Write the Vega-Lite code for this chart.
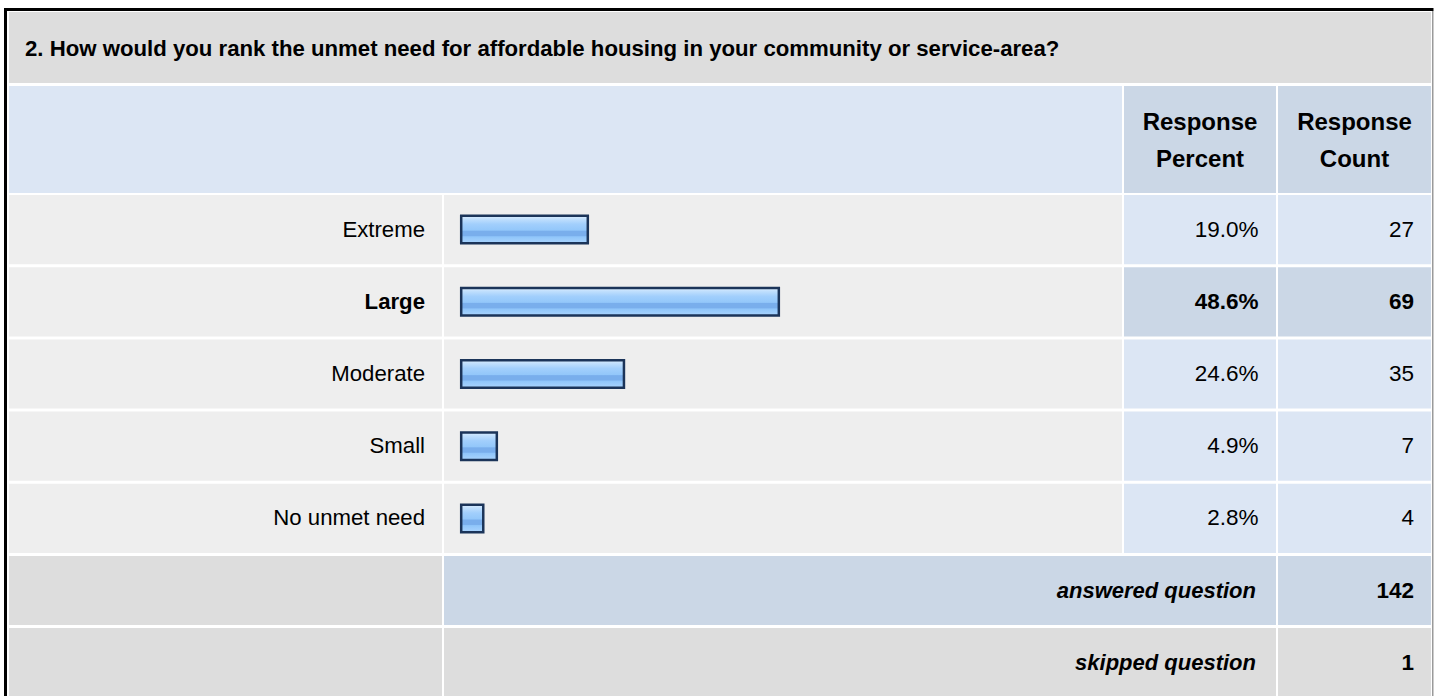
{
  "$schema": "https://vega.github.io/schema/vega-lite/v6.json",
  "background": "white",
  "padding": {"left": 4, "top": 8, "right": 0, "bottom": 0},
  "spacing": 0,
  "config": {
    "view": {"stroke": null},
    "text": {"font": "Liberation Sans", "color": "#000000"}
  },
  "datasets": {
    "question": [
      {"question": "2. How would you rank the unmet need for affordable housing in your community or service-area?"}
    ],
    "headers": [
      {"column": "percent", "header": "Response Percent"},
      {"column": "count", "header": "Response Count"}
    ],
    "answers": [
      {"answer": "Extreme", "percent": 0.190, "count": 27},
      {"answer": "Large", "percent": 0.486, "count": 69},
      {"answer": "Moderate", "percent": 0.246, "count": 35},
      {"answer": "Small", "percent": 0.049, "count": 7},
      {"answer": "No unmet need", "percent": 0.028, "count": 4}
    ],
    "totals": [
      {"label": "answered question", "value": 142},
      {"label": "skipped question", "value": 1}
    ]
  },
  "vconcat": [
    {
      "data": {"name": "question"},
      "width": 1422,
      "height": 71,
      "view": {"fill": "#dddddd", "stroke": null},
      "layer": [
        {
          "mark": {"type": "text", "align": "left", "baseline": "middle", "x": 16, "y": 36.5, "fontSize": 22.2, "fontWeight": "bold"},
          "encoding": {"text": {"field": "question", "type": "nominal"}}
        },
        {
          "mark": {"type": "rect", "color": "#000000"},
          "encoding": {"x": {"value": -5}, "x2": {"value": -2}, "y": {"value": -4}, "y2": {"value": 71}}
        },
        {
          "mark": {"type": "rect", "color": "#000000"},
          "encoding": {"x": {"value": -5}, "x2": {"value": 1424.5}, "y": {"value": -4}, "y2": {"value": -1}}
        },
        {
          "mark": {"type": "rect", "color": "#9a9a9a"},
          "encoding": {"x": {"value": 1423}, "x2": {"value": 1424.5}, "y": {"value": -1}, "y2": {"value": 71}}
        }
      ]
    },
    {
      "data": {"name": "headers"},
      "hconcat": [
        {
          "width": 1113,
          "height": 107,
          "view": {"fill": "#dce6f4", "stroke": null},
          "layer": [
            {
              "data": {"name": "question"},
              "mark": {"type": "rect", "color": "#000000"},
              "encoding": {"x": {"value": -5}, "x2": {"value": -2}, "y": {"value": -3}, "y2": {"value": 107}}
            }
          ]
        },
        {
          "width": 152,
          "height": 107,
          "view": {"fill": "#cbd7e6", "stroke": null},
          "transform": [{"filter": "datum.column === 'percent'"}],
          "mark": {"type": "text", "align": "center", "baseline": "middle", "dy": -17, "fontSize": 24, "fontWeight": "bold", "lineHeight": 37, "lineBreak": " "},
          "encoding": {"text": {"field": "header", "type": "nominal"}}
        },
        {
          "width": 153,
          "height": 107,
          "view": {"fill": "#cbd7e6", "stroke": null},
          "layer": [
            {
              "transform": [{"filter": "datum.column === 'count'"}],
              "mark": {"type": "text", "align": "center", "baseline": "middle", "dy": -17, "fontSize": 24, "fontWeight": "bold", "lineHeight": 37, "lineBreak": " "},
              "encoding": {"text": {"field": "header", "type": "nominal"}}
            },
            {
              "data": {"name": "question"},
              "mark": {"type": "rect", "color": "#9a9a9a"},
              "encoding": {"x": {"value": 154}, "x2": {"value": 155.5}, "y": {"value": -3}, "y2": {"value": 107}}
            }
          ]
        }
      ],
      "spacing": 2,
      "bounds": "flush"
    },
    {
      "data": {"name": "answers"},
      "hconcat": [
        {
          "width": 433,
          "height": 358,
          "layer": [
            {
              "mark": {"type": "rect", "color": "#eeeeee"},
              "encoding": {
                "y": {"field": "answer", "type": "nominal", "sort": null, "axis": null, "scale": {"paddingInner": 0.04155, "paddingOuter": 0}}
              }
            },
            {
              "transform": [{"filter": "datum.answer !== 'Large'"}],
              "mark": {"type": "text", "align": "right", "baseline": "middle", "x": 416, "fontSize": 22.2},
              "encoding": {
                "y": {"field": "answer", "type": "nominal", "sort": null, "axis": null},
                "text": {"field": "answer", "type": "nominal"}
              }
            },
            {
              "transform": [{"filter": "datum.answer === 'Large'"}],
              "mark": {"type": "text", "align": "right", "baseline": "middle", "x": 416, "fontSize": 22.2, "fontWeight": "bold"},
              "encoding": {
                "y": {"field": "answer", "type": "nominal", "sort": null, "axis": null},
                "text": {"field": "answer", "type": "nominal"}
              }
            },
            {
              "data": {"name": "question"},
              "mark": {"type": "rect", "color": "#000000"},
              "encoding": {"x": {"value": -5}, "x2": {"value": -2}, "y": {"value": -2}, "y2": {"value": 358}}
            }
          ]
        },
        {
          "width": 678,
          "height": 358,
          "encoding": {
            "y": {"field": "answer", "type": "nominal", "sort": null, "axis": null, "scale": {"paddingInner": 0.04155, "paddingOuter": 0}}
          },
          "layer": [
            {
              "mark": {"type": "rect", "color": "#eeeeee"}
            },
            {
              "mark": {
                "type": "bar",
                "size": 27.5,
                "stroke": "#1b3459",
                "strokeWidth": 2.5,
                "color": {
                  "gradient": "linear", "x1": 0, "y1": 0, "x2": 0, "y2": 1,
                  "stops": [
                    {"offset": 0, "color": "#dceefe"},
                    {"offset": 0.12, "color": "#c0dffd"},
                    {"offset": 0.3, "color": "#a2cffc"},
                    {"offset": 0.52, "color": "#93c7fa"},
                    {"offset": 0.56, "color": "#79aeec"},
                    {"offset": 0.72, "color": "#79aeec"},
                    {"offset": 0.76, "color": "#8fc5fa"},
                    {"offset": 1, "color": "#aad4fd"}
                  ]
                }
              },
              "encoding": {
                "x": {"field": "percent", "type": "quantitative", "stack": null, "axis": null, "scale": {"domain": [-0.03285, 1.0178], "nice": false}},
                "x2": {"datum": -0.0062}
              }
            }
          ],
          "resolve": {"scale": {"x": "independent"}}
        },
        {
          "width": 152,
          "height": 358,
          "encoding": {
            "y": {"field": "answer", "type": "nominal", "sort": null, "axis": null, "scale": {"paddingInner": 0.04155, "paddingOuter": 0}}
          },
          "layer": [
            {
              "mark": {"type": "rect"},
              "encoding": {
                "color": {"condition": {"test": "datum.answer === 'Large'", "value": "#cbd7e6"}, "value": "#dce6f4"}
              }
            },
            {
              "transform": [{"filter": "datum.answer !== 'Large'"}],
              "mark": {"type": "text", "align": "right", "baseline": "middle", "x": 134.5, "fontSize": 22.5},
              "encoding": {"text": {"field": "percent", "type": "quantitative", "format": ".1%"}}
            },
            {
              "transform": [{"filter": "datum.answer === 'Large'"}],
              "mark": {"type": "text", "align": "right", "baseline": "middle", "x": 134.5, "fontSize": 22.5, "fontWeight": "bold"},
              "encoding": {"text": {"field": "percent", "type": "quantitative", "format": ".1%"}}
            }
          ]
        },
        {
          "width": 153,
          "height": 358,
          "layer": [
            {
              "mark": {"type": "rect"},
              "encoding": {
                "y": {"field": "answer", "type": "nominal", "sort": null, "axis": null, "scale": {"paddingInner": 0.04155, "paddingOuter": 0}},
                "color": {"condition": {"test": "datum.answer === 'Large'", "value": "#cbd7e6"}, "value": "#dce6f4"}
              }
            },
            {
              "transform": [{"filter": "datum.answer !== 'Large'"}],
              "mark": {"type": "text", "align": "right", "baseline": "middle", "x": 136, "fontSize": 22.5},
              "encoding": {
                "y": {"field": "answer", "type": "nominal", "sort": null, "axis": null},
                "text": {"field": "count", "type": "quantitative"}
              }
            },
            {
              "transform": [{"filter": "datum.answer === 'Large'"}],
              "mark": {"type": "text", "align": "right", "baseline": "middle", "x": 136, "fontSize": 22.5, "fontWeight": "bold"},
              "encoding": {
                "y": {"field": "answer", "type": "nominal", "sort": null, "axis": null},
                "text": {"field": "count", "type": "quantitative"}
              }
            },
            {
              "data": {"name": "question"},
              "mark": {"type": "rect", "color": "#9a9a9a"},
              "encoding": {"x": {"value": 154}, "x2": {"value": 155.5}, "y": {"value": -2}, "y2": {"value": 358}}
            }
          ]
        }
      ],
      "spacing": 2,
      "bounds": "flush"
    },
    {
      "data": {"name": "totals"},
      "hconcat": [
        {
          "width": 433,
          "height": 141,
          "layer": [
            {
              "mark": {"type": "rect", "color": "#dddddd"},
              "encoding": {
                "y": {"field": "label", "type": "nominal", "sort": null, "axis": null, "scale": {"paddingInner": 0.041667, "paddingOuter": 0}}
              }
            },
            {
              "data": {"name": "question"},
              "mark": {"type": "rect", "color": "#000000"},
              "encoding": {"x": {"value": -5}, "x2": {"value": -2}, "y": {"value": -3}, "y2": {"value": 141}}
            }
          ]
        },
        {
          "width": 832,
          "height": 141,
          "encoding": {
            "y": {"field": "label", "type": "nominal", "sort": null, "axis": null, "scale": {"paddingInner": 0.041667, "paddingOuter": 0}}
          },
          "layer": [
            {
              "mark": {"type": "rect"},
              "encoding": {
                "color": {"condition": {"test": "datum.label === 'answered question'", "value": "#cbd7e6"}, "value": "#dddddd"}
              }
            },
            {
              "mark": {"type": "text", "align": "right", "baseline": "middle", "x": 812, "fontSize": 22, "fontWeight": "bold", "fontStyle": "italic"},
              "encoding": {"text": {"field": "label", "type": "nominal"}}
            }
          ]
        },
        {
          "width": 153,
          "height": 141,
          "layer": [
            {
              "mark": {"type": "rect"},
              "encoding": {
                "y": {"field": "label", "type": "nominal", "sort": null, "axis": null, "scale": {"paddingInner": 0.041667, "paddingOuter": 0}},
                "color": {"condition": {"test": "datum.label === 'answered question'", "value": "#cbd7e6"}, "value": "#dddddd"}
              }
            },
            {
              "mark": {"type": "text", "align": "right", "baseline": "middle", "x": 136, "fontSize": 22.5, "fontWeight": "bold"},
              "encoding": {
                "y": {"field": "label", "type": "nominal", "sort": null, "axis": null},
                "text": {"field": "value", "type": "quantitative"}
              }
            },
            {
              "data": {"name": "question"},
              "mark": {"type": "rect", "color": "#9a9a9a"},
              "encoding": {"x": {"value": 154}, "x2": {"value": 155.5}, "y": {"value": -3}, "y2": {"value": 141}}
            }
          ]
        }
      ],
      "spacing": 2,
      "bounds": "flush"
    }
  ]
}
